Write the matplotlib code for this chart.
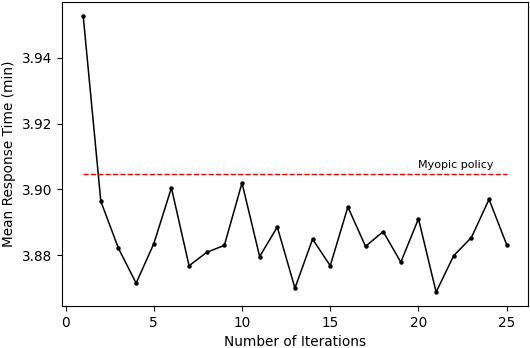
import numpy as np
import matplotlib
matplotlib.use("Agg")
import matplotlib.pyplot as plt

# data
iterations = list(range(1, 26))
mean_response = [3.9528, 3.8964, 3.8821, 3.8715, 3.8835, 3.9005, 3.8768, 3.8809,
                 3.8830, 3.9020, 3.8796, 3.8886, 3.8700, 3.8849, 3.8768, 3.8947,
                 3.8827, 3.8872, 3.8779, 3.8911, 3.8688, 3.8799, 3.8854, 3.8970,
                 3.8832]
myopic_value = 3.9046

plt.rcParams["font.size"] = 9.8

fig = plt.figure(figsize=(5.30, 3.48), dpi=100)
ax = fig.add_subplot(111)
fig.subplots_adjust(left=0.117, right=0.996, top=0.994, bottom=0.121)

ax.plot(iterations, mean_response, color="black", marker="o", markersize=2.2, linewidth=1.1)
ax.plot([iterations[0], iterations[-1]], [myopic_value, myopic_value],
        color="red", linestyle="--", linewidth=1.0)
ax.text(20, myopic_value + 0.0012, "Myopic policy", fontsize=8, va="bottom", ha="left")

ax.set_xlabel("Number of Iterations")
ax.set_ylabel("Mean Response Time (min)")
ax.set_xticks([0, 5, 10, 15, 20, 25])
ax.set_yticks([3.88, 3.90, 3.92, 3.94])

fig.savefig("out.png", dpi=100)
